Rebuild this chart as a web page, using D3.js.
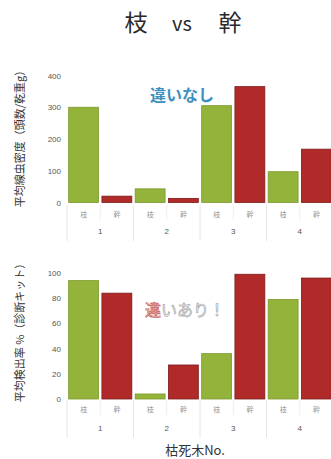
<!DOCTYPE html>
<html><head><meta charset="utf-8">
<script src="https://cdn.jsdelivr.net/npm/d3@7"></script>
<style>
html,body{margin:0;padding:0;background:#fff;}
svg{display:block;font-family:"Noto Sans CJK JP","Noto Sans",sans-serif;}
</style></head>
<body><svg id="c" width="331" height="459"></svg>
<script>
// ---- data ----
const trees = ["1","2","3","4"];
const parts = ["枝","幹"];
const densityBranch = [300, 43, 305, 97];
const densityTrunk  = [20, 13, 365, 168];
const rateBranch = [94, 4, 36, 79];
const rateTrunk  = [84, 27, 99, 96];
const densityTicks = [0,100,200,300,400];
const rateTicks = [0,20,40,60,80,100];
const titleParts = ["枝","vs","幹"];
const yTitleTop = "平均線虫密度（頭数/乾重g）";
const yTitleBottom = "平均検出率 %（診断キット）";
const xTitle = "枯死木No.";
const noteTop = "違いなし";
const noteBottom = ["違","いあり！"];

const colors = {"枝":"#93b33b","幹":"#b02a2a"};
const strokes = {"枝":"#7c9a2c","幹":"#7e1b1b"};

const svg = d3.select("#c");

// title
const tx = d3.scaleOrdinal().domain(titleParts).range([136,182,230]);
svg.selectAll("text.title").data(titleParts).join("text")
  .attr("class","title").attr("x",d=>tx(d)).attr("y",31)
  .attr("text-anchor","middle").attr("font-size",d=>d==="vs"?20:23)
  .attr("font-weight",400).attr("fill","#2a2a2a").text(d=>d);

function buildRows(b, t){
  const rows=[];
  trees.forEach((tr,i)=>{
    rows.push({tree:tr, part:parts[0], key:tr+"-"+parts[0], v:b[i]});
    rows.push({tree:tr, part:parts[1], key:tr+"-"+parts[1], v:t[i]});
  });
  return rows;
}

function panel(rows, domain, ticks, y0, y1, labY, grpY, yTitle, yTitleCY){
  const x = d3.scaleBand().domain(rows.map(r=>r.key)).range([67,333])
    .paddingInner(0.1).paddingOuter(0.05);
  const y = d3.scaleLinear().domain(domain).range([y0,y1]);
  const g = svg.append("g");

  // label-area separators
  const step = x.step();
  const left = x.range()[0];
  trees.forEach((tr,i)=>{
    const gx = left + i*2*step;
    g.append("line").attr("x1",gx).attr("x2",gx).attr("y1",labY-9).attr("y2",grpY+10)
      .attr("stroke","#e6e6e6").attr("stroke-width",1);
    const mx = gx + step;
    g.append("line").attr("x1",mx).attr("x2",mx).attr("y1",labY-9).attr("y2",labY+6)
      .attr("stroke","#eeeeee").attr("stroke-width",1);
  });

  // axis
  const ax = g.append("g").attr("transform","translate(61,0)")
    .call(d3.axisLeft(y).tickValues(ticks).tickSize(0).tickPadding(0));
  ax.select(".domain").remove();
  ax.selectAll("text").attr("font-size",8).attr("fill","#555")
    .attr("font-family","'Liberation Sans',sans-serif");

  // bars
  g.selectAll("rect.bar").data(rows).join("rect").attr("class","bar")
    .attr("x",d=>x(d.key)).attr("width",x.bandwidth())
    .attr("y",d=>y(d.v)).attr("height",d=>y(0)-y(d.v))
    .attr("fill",d=>colors[d.part]).attr("stroke",d=>strokes[d.part]).attr("stroke-width",0.8);

  // bar labels
  g.selectAll("text.bl").data(rows).join("text").attr("class","bl")
    .attr("x",d=>x(d.key)+x.bandwidth()/2).attr("y",labY+3)
    .attr("text-anchor","middle").attr("font-size",7).attr("fill","#999").text(d=>d.part);

  // group labels
  g.selectAll("text.gl").data(trees).join("text").attr("class","gl")
    .attr("x",d=>(x(d+"-"+parts[0])+x(d+"-"+parts[1])+x.bandwidth())/2).attr("y",grpY+3)
    .attr("text-anchor","middle").attr("font-size",8).attr("fill","#555")
    .attr("font-family","'Liberation Sans',sans-serif").text(d=>d);

  // y title
  svg.append("text").attr("transform",`translate(24,${yTitleCY}) rotate(-90)`)
    .attr("text-anchor","middle").attr("font-size",11).attr("fill","#333").text(yTitle);
  return {x,y};
}

panel(buildRows(densityBranch,densityTrunk),[0,400],densityTicks,202.5,75.5,214,231,yTitleTop,136);
panel(buildRows(rateBranch,rateTrunk),[0,100],rateTicks,399,273,409,428,yTitleBottom,330);

// notes
svg.append("text").attr("x",182).attr("y",101).attr("text-anchor","middle")
  .attr("font-size",16).attr("font-weight",700).attr("fill","#3d8fbf").text(noteTop);
const nb = svg.append("text").attr("x",185).attr("y",316).attr("text-anchor","middle")
  .attr("font-size",16).attr("font-weight",400).attr("fill","#fff");
nb.append("tspan").attr("stroke","#c45a5a").attr("stroke-width",0.7).text(noteBottom[0]);
nb.append("tspan").attr("stroke","#a8a8a8").attr("stroke-width",0.7).text(noteBottom[1]);

// x title
svg.append("text").attr("x",195).attr("y",455).attr("text-anchor","middle")
  .attr("font-size",13).attr("fill","#333").text(xTitle);
</script></body></html>
